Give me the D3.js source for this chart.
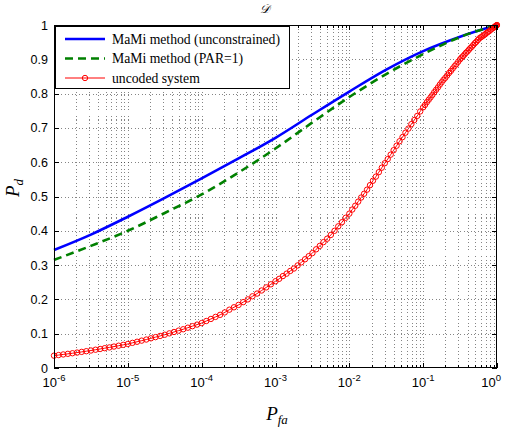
<!DOCTYPE html>
<html><head><meta charset="utf-8">
<script src="https://cdn.jsdelivr.net/npm/d3@7"></script>
<style>body{margin:0;background:#fff} svg{display:block}</style>
</head><body><svg id="c" width="507" height="427"></svg>
<script>
// ---------- data ----------
const xTickExps = [-6, -5, -4, -3, -2, -1, 0];
const yTicks = [0, 0.1, 0.2, 0.3, 0.4, 0.5, 0.6, 0.7, 0.8, 0.9, 1];
const legendLabels = ["MaMi method (unconstrained)", "MaMi method (PAR=1)", "uncoded system"];

// smooth curves: log10(Pfa) and Pd
const curveExps = [-6, -5.5, -5, -4.5, -4, -3.5, -3, -2.5, -2, -1.5, -1, -0.5, 0];
const blueVals  = [0.344, 0.389, 0.441, 0.496, 0.553, 0.611, 0.671, 0.739, 0.806, 0.870, 0.924, 0.966, 1.0];
const greenVals = [0.315, 0.356, 0.400, 0.452, 0.506, 0.570, 0.640, 0.716, 0.790, 0.857, 0.915, 0.965, 1.0];

// uncoded system (marker at every point)
const redExps = [
 -6, -5.9375, -5.875, -5.8125, -5.75, -5.6875, -5.625, -5.5625, -5.5, -5.4375, -5.375, -5.3125,
 -5.25, -5.1875, -5.125, -5.0625, -5, -4.9375, -4.875, -4.8125, -4.75, -4.6875, -4.625, -4.5625,
 -4.5, -4.4375, -4.375, -4.3125, -4.25, -4.1875, -4.125, -4.0625, -4, -3.9375, -3.875, -3.8125,
 -3.75, -3.6875, -3.625, -3.5625, -3.5, -3.4375, -3.375, -3.3125, -3.25, -3.1875, -3.125, -3.0625, -3,
 -2.95, -2.9, -2.85, -2.8, -2.75, -2.7, -2.65, -2.6, -2.55, -2.5, -2.45, -2.4, -2.35, -2.3, -2.25,
 -2.2, -2.15, -2.1, -2.05, -2,
 -1.96, -1.92, -1.88, -1.84, -1.8, -1.76, -1.72, -1.68, -1.64, -1.6, -1.56, -1.52, -1.48, -1.44,
 -1.4, -1.36, -1.32, -1.28, -1.24, -1.2, -1.16, -1.12, -1.08, -1.04, -1,
 -0.975, -0.95, -0.925, -0.9, -0.875, -0.85, -0.825, -0.8, -0.775, -0.75, -0.725, -0.7, -0.675,
 -0.65, -0.625, -0.6, -0.575, -0.55, -0.525, -0.5,
 -0.48, -0.46, -0.44, -0.42, -0.4, -0.38, -0.36, -0.34, -0.32, -0.3, -0.28, -0.26, -0.24, -0.22,
 -0.2, -0.18, -0.16, -0.14, -0.12, -0.1, -0.08, -0.06, -0.04, -0.03, -0.02, -0.01, -0.005, 0
];
const redVals = [
 0.036, 0.0378, 0.0395, 0.0413, 0.043, 0.045, 0.047, 0.049, 0.051, 0.0533, 0.0555, 0.0578,
 0.060, 0.0625, 0.065, 0.0675, 0.070, 0.0733, 0.0765, 0.0798, 0.083, 0.0865, 0.090, 0.0935,
 0.097, 0.101, 0.105, 0.109, 0.113, 0.1175, 0.122, 0.1265, 0.131, 0.137, 0.143, 0.149,
 0.155, 0.162, 0.170, 0.177, 0.184, 0.192, 0.200, 0.209, 0.217, 0.226, 0.235, 0.244, 0.253,
 0.260, 0.268, 0.275, 0.283, 0.290, 0.299, 0.308, 0.317, 0.326, 0.335, 0.346, 0.356, 0.367, 0.377, 0.388,
 0.400, 0.413, 0.425, 0.438, 0.450,
 0.462, 0.473, 0.485, 0.497, 0.508, 0.520, 0.533, 0.546, 0.558, 0.571, 0.584, 0.597, 0.609, 0.622,
 0.635, 0.648, 0.661, 0.673, 0.686, 0.698, 0.711, 0.723, 0.735, 0.748, 0.760,
 0.767, 0.775, 0.782, 0.789, 0.796, 0.804, 0.811, 0.818, 0.826, 0.833, 0.840, 0.846, 0.853,
 0.860, 0.866, 0.873, 0.880, 0.886, 0.893, 0.900,
 0.905, 0.909, 0.914, 0.919, 0.923, 0.928, 0.933, 0.937, 0.942, 0.947, 0.951, 0.956, 0.961, 0.964,
 0.967, 0.970, 0.973, 0.977, 0.980, 0.983, 0.987, 0.990, 0.993, 0.995, 0.997, 0.998, 0.999, 1.0
];

// ---------- layout ----------
const svg = d3.select("#c");
const L = 54, R = 497, T = 25, B = 368;
const x = d3.scaleLog().domain([1e-6, 1]).range([L, R]);
const y = d3.scaleLinear().domain([0, 1]).range([B, T]);
const sansFont = "'Liberation Sans', Arial, Helvetica, sans-serif";
const serifFont = "'Liberation Serif', 'Times New Roman', serif";

const allXTicks = x.ticks();
const isMajor = v => Math.abs(Math.log10(v) - Math.round(Math.log10(v))) < 1e-9;

// grid
const grid = svg.append("g").attr("stroke", "#333").attr("stroke-width", 0.6)
  .attr("stroke-dasharray", "1,2.5").attr("shape-rendering", "crispEdges");
grid.selectAll("line.gx").data(allXTicks.filter(v => v > 1e-6 && v < 1)).join("line")
  .attr("x1", d => Math.round(x(d)) + 0.5).attr("x2", d => Math.round(x(d)) + 0.5)
  .attr("y1", T).attr("y2", B);
grid.selectAll("line.gy").data(yTicks.filter(v => v > 0 && v < 1)).join("line")
  .attr("y1", d => Math.round(y(d)) + 0.5).attr("y2", d => Math.round(y(d)) + 0.5)
  .attr("x1", L).attr("x2", R);

// curves
const pts = (exps, vals) => exps.map((e, i) => [Math.pow(10, e), vals[i]]);
const lineSmooth = d3.line().x(d => x(d[0])).y(d => y(d[1])).curve(d3.curveMonotoneX);

svg.append("path").datum(pts(curveExps, blueVals)).attr("d", lineSmooth)
  .attr("fill", "none").attr("stroke", "#0000ff").attr("stroke-width", 2.6);
svg.append("path").datum(pts(curveExps, greenVals)).attr("d", lineSmooth)
  .attr("fill", "none").attr("stroke", "#008000").attr("stroke-width", 2.6)
  .attr("stroke-dasharray", "8,5");
const redPts = pts(redExps, redVals);
svg.append("path").datum(redPts).attr("d", lineSmooth)
  .attr("fill", "none").attr("stroke", "#ff0000").attr("stroke-width", 1);
svg.append("g").selectAll("circle").data(redPts).join("circle")
  .attr("cx", d => x(d[0])).attr("cy", d => y(d[1])).attr("r", 2.7)
  .attr("fill", "none").attr("stroke", "#ff0000").attr("stroke-width", 1);

// axes box and ticks
const ax = svg.append("g").attr("stroke", "#000").attr("stroke-width", 1).attr("shape-rendering", "crispEdges");
ax.append("rect").attr("x", L + 0.5).attr("y", T + 0.5).attr("width", R - L - 1).attr("height", B - T - 1)
  .attr("fill", "none");
allXTicks.forEach(v => {
  const px = Math.round(x(v)) + 0.5, len = isMajor(v) ? 5 : 3;
  ax.append("line").attr("x1", px).attr("x2", px).attr("y1", B).attr("y2", B - len);
  ax.append("line").attr("x1", px).attr("x2", px).attr("y1", T).attr("y2", T + len);
});
yTicks.forEach(v => {
  const py = Math.round(y(v)) + 0.5;
  ax.append("line").attr("x1", L).attr("x2", L + 5).attr("y1", py).attr("y2", py);
  ax.append("line").attr("x1", R).attr("x2", R - 5).attr("y1", py).attr("y2", py);
});

// tick labels
svg.append("g").selectAll("text").data(yTicks).join("text")
  .attr("x", L - 6).attr("y", d => y(d)).attr("dy", "0.36em")
  .attr("text-anchor", "end").attr("font-family", sansFont).attr("font-size", 12.5).attr("fill", "#000")
  .text(d => d3.format("~g")(d));

const xl = svg.append("g");
xTickExps.forEach(e => {
  const t = xl.append("text").attr("y", 387).attr("font-family", sansFont).attr("font-size", 13)
    .attr("fill", "#000");
  t.append("tspan").text("10");
  t.append("tspan").attr("dy", -6).attr("font-size", 9.5).text(e === 0 ? "0" : "-" + Math.abs(e));
  const w = t.node().getComputedTextLength();
  let x0 = x(Math.pow(10, e)) - w / 2;
  if (x0 + w > 501) x0 = 501 - w;
  t.attr("x", x0);
});

// axis labels
const xlab = svg.append("text").attr("x", 277).attr("y", 420).attr("text-anchor", "middle")
  .attr("font-family", serifFont).attr("font-style", "italic").attr("font-size", 19).attr("fill", "#000");
xlab.append("tspan").text("P");
xlab.append("tspan").attr("dy", 4).attr("font-size", 13).text("fa");

const ylab = svg.append("text").attr("transform", "translate(19,188) rotate(-90)").attr("text-anchor", "middle")
  .attr("font-family", serifFont).attr("font-style", "italic").attr("font-size", 19).attr("fill", "#000");
ylab.append("tspan").text("P");
ylab.append("tspan").attr("dy", 4).attr("font-size", 13).text("d");

// title
svg.append("text").attr("x", 265).attr("y", 13).attr("text-anchor", "middle")
  .attr("font-family", serifFont).attr("font-style", "italic").attr("font-size", 12).attr("fill", "#000")
  .text("𝒟");

// legend
const lg = svg.append("g");
lg.append("rect").attr("x", 55.5).attr("y", 26.5).attr("width", 234).attr("height", 62)
  .attr("fill", "#fff").attr("stroke", "#000").attr("stroke-width", 1).attr("shape-rendering", "crispEdges");
const styles = [
  {c: "#0000ff", w: 2.6, dash: null, mk: false},
  {c: "#008000", w: 2.6, dash: "8,5", mk: false},
  {c: "#ff0000", w: 1, dash: null, mk: true}
];
legendLabels.forEach((lab, i) => {
  const yy = 39 + i * 19.5;
  const s = styles[i];
  lg.append("line").attr("x1", 65).attr("x2", 105).attr("y1", yy).attr("y2", yy)
    .attr("stroke", s.c).attr("stroke-width", s.w).attr("stroke-dasharray", s.dash);
  if (s.mk) lg.append("circle").attr("cx", 85).attr("cy", yy).attr("r", 2.7)
    .attr("fill", "none").attr("stroke", s.c).attr("stroke-width", 1);
  lg.append("text").attr("x", 112).attr("y", yy).attr("dy", "0.33em")
    .attr("font-family", serifFont).attr("font-size", 13.7).attr("fill", "#000").text(lab);
});
</script></body></html>
